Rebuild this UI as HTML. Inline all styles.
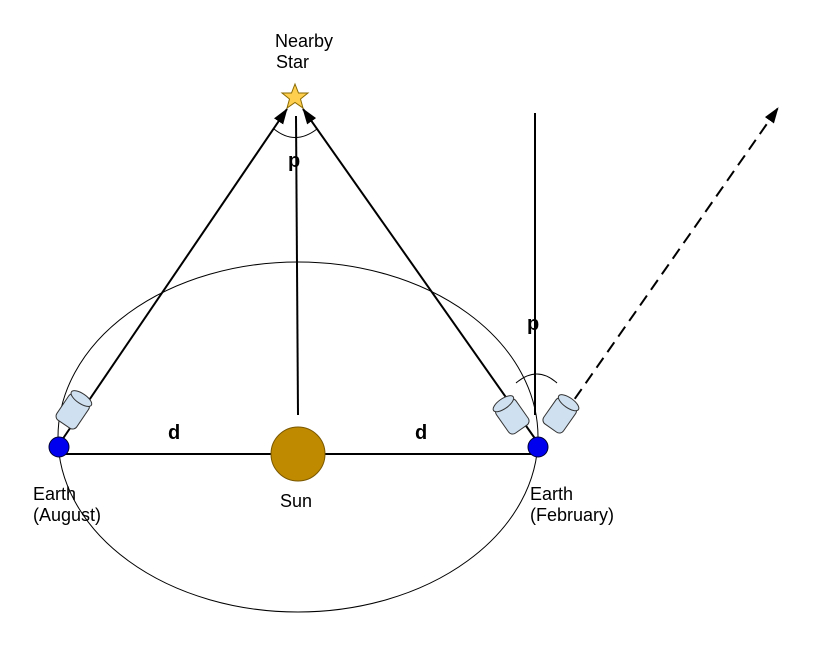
<!DOCTYPE html>
<html><head><style>body{margin:0;background:#fff}svg{display:block}text{font-family:"Liberation Sans",sans-serif}</style></head><body>
<svg width="816" height="664" viewBox="0 0 816 664">
<defs>
<marker id="ah" markerWidth="16" markerHeight="12" refX="15" refY="6" orient="auto" markerUnits="userSpaceOnUse" viewBox="0 0 16 12"><path d="M0,0.5 L16,6 L0,11.5 Z" fill="#000"/></marker>
<g id="tel"><rect x="-12" y="-15" width="24" height="31" rx="5" fill="#cfe0f0" stroke="#333" stroke-width="1"/><ellipse cx="0" cy="-15" rx="12" ry="5" fill="#cfe0f0" stroke="#333"/></g>
</defs>
<ellipse cx="298" cy="437" rx="240" ry="175" fill="none" stroke="#000" stroke-width="1"/>
<line x1="59" y1="454" x2="538" y2="454" stroke="#000" stroke-width="2"/>
<line x1="298" y1="415" x2="296" y2="116" stroke="#000" stroke-width="2"/>
<line x1="535" y1="415" x2="535" y2="113" stroke="#000" stroke-width="2"/>
<line x1="62" y1="440" x2="287" y2="109" stroke="#000" stroke-width="2" marker-end="url(#ah)"/>
<line x1="536" y1="440" x2="303" y2="109" stroke="#000" stroke-width="2" marker-end="url(#ah)"/>
<line x1="553" y1="430" x2="778" y2="108" stroke="#000" stroke-width="2" stroke-dasharray="12,7" marker-end="url(#ah)"/>
<path d="M274,129 Q295,146 317,129" fill="none" stroke="#000"/>
<path d="M516,383 Q537,365 557,383" fill="none" stroke="#000"/>
<use href="#tel" transform="translate(73,411) rotate(34)"/>
<use href="#tel" transform="translate(512,416) rotate(-35)"/>
<use href="#tel" transform="translate(560,415) rotate(35)"/>
<circle cx="298" cy="454" r="27" fill="#c08a00" stroke="#7a5800"/>
<circle cx="59" cy="447" r="10" fill="#0000ee" stroke="#000033"/>
<circle cx="538" cy="447" r="10" fill="#0000ee" stroke="#000033"/>
<polygon points="295,84 298.5,93 308,93 300.5,99 303,108 295,102.5 287,108 289.5,99 282,93 291.5,93" fill="#ffd050" stroke="#8a6a00"/>
<text x="275" y="47" font-size="18">Nearby</text>
<text x="276" y="68" font-size="18">Star</text>
<text x="288" y="167" font-size="20" font-weight="bold">p</text>
<text x="527" y="330" font-size="20" font-weight="bold">p</text>
<text x="168" y="439" font-size="20" font-weight="bold">d</text>
<text x="415" y="439" font-size="20" font-weight="bold">d</text>
<text x="280" y="507" font-size="18">Sun</text>
<text x="33" y="500" font-size="18">Earth</text>
<text x="33" y="521" font-size="18">(August)</text>
<text x="530" y="500" font-size="18">Earth</text>
<text x="530" y="521" font-size="18">(February)</text>
</svg>
</body></html>
